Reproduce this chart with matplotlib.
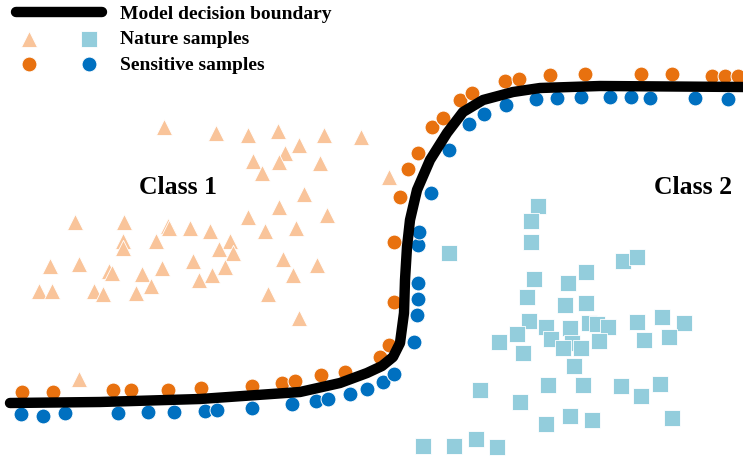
import matplotlib
matplotlib.use("Agg")
from matplotlib import pyplot as plt
from matplotlib.legend_handler import HandlerTuple

# everything is in picture units: x to the right, y downward (0..743, 0..457)
boundary_x = [10, 100, 200, 300, 340, 367, 382, 393, 400, 404, 405, 407, 410,
              417, 430, 447, 463, 483, 513, 540, 600, 743]
boundary_y = [403, 402, 399, 392, 383, 373, 366, 357, 343, 313, 280, 247, 220,
              190, 160, 133, 112, 100, 92, 88, 86, 87]

class1_x = [164, 216, 248, 278, 324, 361, 299, 285, 253, 279, 320, 262, 304, 279,
            248, 327, 75, 124, 168, 169, 190, 210, 265, 296, 123, 123, 156, 230,
            219, 233, 193, 283, 317, 50, 79, 109, 112, 142, 162, 225, 212, 199,
            293, 151, 136, 39, 52, 94, 103, 268, 299, 79, 389]
class1_y = [127, 133, 135, 131, 135, 137, 145, 153, 161, 162, 163, 173, 194, 207,
            217, 215, 222, 222, 226, 228, 228, 231, 231, 228, 241, 248, 241, 241,
            249, 253, 261, 259, 265, 266, 264, 271, 273, 274, 268, 267, 275, 280,
            275, 286, 293, 291, 291, 291, 294, 294, 318, 379, 177]

class2_x = [538, 531, 531, 449, 623, 637, 586, 534, 568, 527, 565, 586, 529, 546,
            570, 589, 597, 608, 637, 662, 684, 517, 499, 551, 572, 563, 581, 599,
            644, 669, 523, 574, 480, 548, 583, 621, 660, 641, 520, 546, 570, 592,
            672, 423, 454, 476, 497]
class2_y = [206, 221, 242, 253, 261, 257, 272, 279, 283, 297, 305, 303, 321, 327,
            328, 323, 324, 327, 322, 317, 323, 334, 342, 339, 343, 348, 348, 341,
            340, 337, 353, 366, 390, 385, 385, 386, 384, 396, 402, 424, 416, 420,
            418, 446, 446, 439, 447]

sens1_x = [22, 53, 113, 131, 168, 201, 252, 282, 295, 321, 345, 380, 389, 394,
           394, 400, 408, 418, 432, 443, 460, 472, 505, 519, 550, 585, 641, 672,
           712, 725, 738]
sens1_y = [392, 392, 390, 390, 390, 388, 386, 383, 381, 375, 372, 357, 345, 302,
           242, 197, 169, 153, 127, 118, 100, 93, 81, 79, 75, 74, 74, 74, 76, 76,
           76]

sens2_x = [21, 43, 65, 118, 148, 174, 205, 217, 252, 292, 316, 328, 350, 367,
           383, 394, 414, 417, 418, 418, 418, 419, 431, 449, 469, 484, 506, 536,
           557, 581, 610, 631, 650, 695, 728]
sens2_y = [414, 416, 413, 413, 412, 412, 411, 410, 408, 404, 401, 399, 394, 389,
           382, 374, 342, 315, 299, 283, 245, 232, 193, 150, 124, 114, 105, 99,
           98, 97, 97, 97, 98, 98, 99]

orange = "#E8710F"
blue = "#0070C0"
light_orange = "#F9C49A"
light_blue = "#93CDDC"

plt.rcParams["font.family"] = ["Liberation Serif", "DejaVu Serif"]

fig = plt.figure(figsize=(7.43, 4.57), dpi=100)
ax = fig.add_axes([0, 0, 1, 1])
ax.set_xlim(0, 743)
ax.set_ylim(457, 0)
ax.axis("off")

tri = ax.scatter(class1_x, class1_y, marker="^", s=135, color=light_orange,
                 edgecolors="white", linewidths=0.6, zorder=2)
sq = ax.scatter(class2_x, class2_y, marker="s", s=125, color=light_blue,
                edgecolors="white", linewidths=0.6, zorder=2)
o1 = ax.scatter(sens1_x, sens1_y, marker="o", s=115, color=orange,
                edgecolors="white", linewidths=0.7, zorder=3)
o2 = ax.scatter(sens2_x, sens2_y, marker="o", s=115, color=blue,
                edgecolors="white", linewidths=0.7, zorder=3)
line, = ax.plot(boundary_x, boundary_y, color="black", lw=7.5,
                solid_capstyle="round", solid_joinstyle="round", zorder=4)

ax.text(178, 187, "Class 1", fontsize=18.5, fontweight="bold",
        ha="center", va="center")
ax.text(693, 187, "Class 2", fontsize=18.5, fontweight="bold",
        ha="center", va="center")

ax.legend([line, (tri, sq), (o1, o2)],
          ["Model decision boundary", "Nature samples", "Sensitive samples"],
          handler_map={tuple: HandlerTuple(ndivide=None, pad=1.75)},
          loc="upper left", bbox_to_anchor=(0.0175, 0.995), frameon=False,
          prop={"weight": "bold", "size": 14}, handlelength=4.43,
          handletextpad=0.93, labelspacing=0.4, borderaxespad=0.0,
          borderpad=0.15, scatterpoints=1)

fig.savefig("out.png", dpi=100)
